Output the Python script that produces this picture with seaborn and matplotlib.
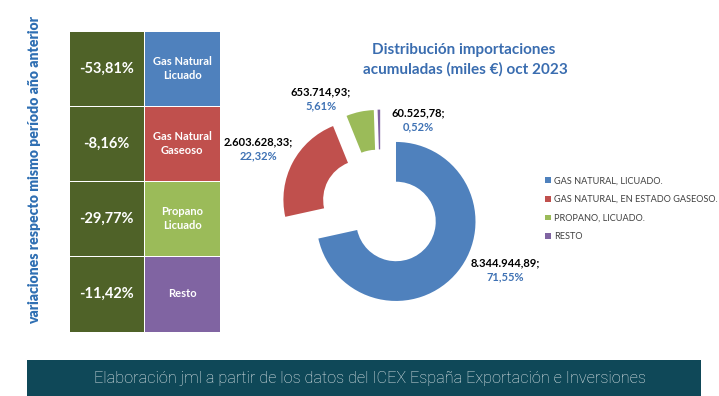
import matplotlib
matplotlib.use("Agg")
import matplotlib.pyplot as plt
from matplotlib.colors import ListedColormap
from matplotlib.patches import Rectangle
import numpy as np
import seaborn as sns

# ---- data ----
categories = ["GAS NATURAL, LICUADO.", "GAS NATURAL, EN ESTADO GASEOSO.",
              "PROPANO, LICUADO.", "RESTO"]
values = [8344944.89, 2603628.33, 653714.93, 60525.78]
value_labels = ["8.344.944,89;", "2.603.628,33;", "653.714,93;", "60.525,78;"]
pct_labels = ["71,55%", "22,32%", "5,61%", "0,52%"]
table_names = ["Gas Natural\nLicuado", "Gas Natural\nGaseoso", "Propano\nLicuado", "Resto"]
table_changes = ["-53,81%", "-8,16%", "-29,77%", "-11,42%"]

colors = ["#4f81bd", "#c0504d", "#9bbb59", "#8064a2"]
olive = "#4f6228"
title_blue = "#3a6db0"

sns.set_theme(style="white")
plt.rcParams['font.family'] = ['Lato', 'DejaVu Sans']

W, H = 719, 396
fig = plt.figure(figsize=(W / 100, H / 100), dpi=100)
fig.patch.set_facecolor("white")

def fx(px):
    return px / W

def fy(py):
    return (H - py) / H

# ---- table (heatmap) ----
tab_ax = fig.add_axes([fx(68.5), fy(331.5), fx(220) - fx(68.5), fy(31) - fy(331.5)])
idx = np.array([[0, i + 1] for i in range(len(categories))])
cmap = ListedColormap([olive] + colors)
sns.heatmap(idx, ax=tab_ax, cmap=cmap, vmin=-0.5, vmax=4.5, cbar=False,
            linewidths=0.7, linecolor="white", xticklabels=False, yticklabels=False)
for i in range(len(categories)):
    tab_ax.text(0.5, i + 0.5, table_changes[i], ha="center", va="center",
                color="white", fontsize=10.5, fontweight="bold")
    tab_ax.text(1.5, i + 0.5, table_names[i], ha="center", va="center",
                color="white", fontsize=8, fontweight="bold", linespacing=1.35)

fig.text(fx(35), fy(170.5), "variaciones respecto mismo período año anterior",
         rotation=90, ha="center", va="center", color="#2f6fb3",
         fontsize=10.1, fontweight="heavy")

# ---- donut ----
R = 79.5
cxp, cyp = 380.5, 209
half = 150
pie_ax = fig.add_axes([fx(cxp - half), fy(cyp + half), 2 * half / W, 2 * half / H])
wedges, _ = pie_ax.pie(values, colors=colors, startangle=90, counterclock=False,
                       explode=[0.25] * 4, radius=1.0,
                       wedgeprops=dict(width=0.5, edgecolor="none"))
lim = half / R
pie_ax.set_xlim(-lim, lim)
pie_ax.set_ylim(-lim, lim)
pie_ax.axis("off")

label_pos = [(505, 263), (258, 142), (321, 91.5), (418, 113)]
for (x, y), vl, pl in zip(label_pos, value_labels, pct_labels):
    fig.text(fx(x), fy(y), vl, ha="center", va="center", fontsize=8,
             fontweight="bold", color="black")
    fig.text(fx(x), fy(y + 14), pl, ha="center", va="center", fontsize=8,
             fontweight="bold", color="#3f72b4")

fig.text(fx(464), fy(50), "Distribución importaciones", ha="center", va="center",
         fontsize=11, fontweight="bold", color=title_blue)
fig.text(fx(465), fy(69.5), "acumuladas (miles €) oct 2023", ha="center", va="center",
         fontsize=11, fontweight="bold", color=title_blue)

leg = fig.legend(wedges, categories, loc="upper left",
                 bbox_to_anchor=(fx(545), fy(176.5)), frameon=False,
                 fontsize=6.6, handlelength=0.6, handleheight=0.6,
                 handletextpad=0.4, labelspacing=1.05, borderpad=0,
                 borderaxespad=0)
for t in leg.get_texts():
    t.set_color("#404040")

# ---- footer ----
fig.patches.append(Rectangle((fx(27.3), 0), fx(701) - fx(27.3), fy(360) - 0,
                             transform=fig.transFigure, facecolor="#0f4858",
                             edgecolor="none", zorder=0))
fig.text(fx(369.5), fy(378.5),
         "Elaboración jml a partir de los datos del ICEX España Exportación e Inversiones",
         ha="center", va="center", color="#e8eef0", fontsize=11.7,
         family=["Roboto", "DejaVu Sans"], fontweight="light")

fig.savefig("out.png", dpi=100, facecolor="white")
